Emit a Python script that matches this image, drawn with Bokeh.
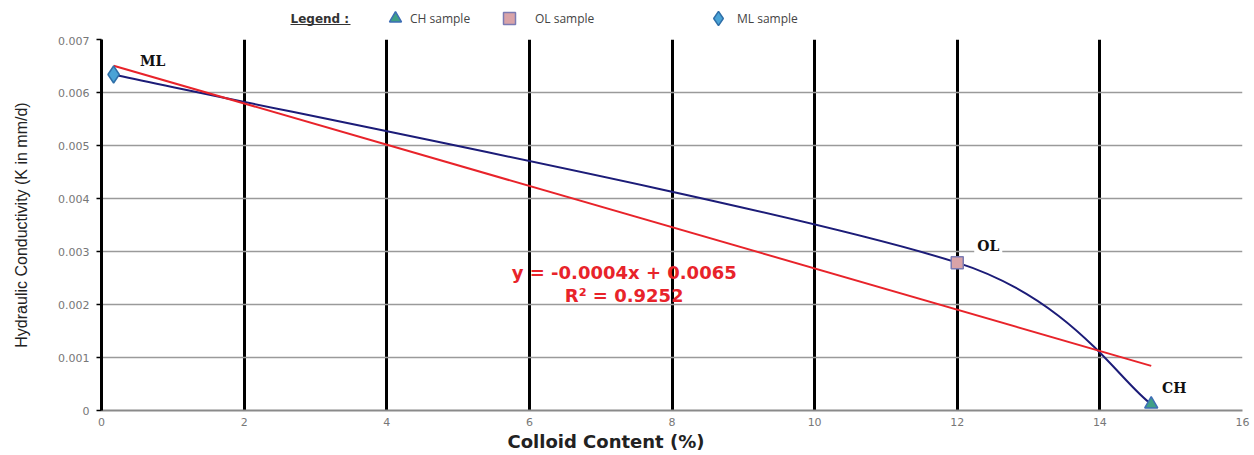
import numpy as np
from bokeh.plotting import figure
from bokeh.layouts import column
from bokeh.models import (Range1d, FixedTicker, CustomJSTickFormatter, Label, Title,
                          Legend, LegendItem, ColumnDataSource, BoxAnnotation)
from bokeh.embed import file_html
from bokeh.resources import INLINE

# ---------------- data ----------------
samples = ["ML", "OL", "CH"]
legend_names = ["ML sample", "OL sample", "CH sample"]
colloid_pct = [0.17, 12.0, 14.72]
k_mm_d = [0.00634, 0.00279, 0.00012]
x_ticks = [0, 2, 4, 6, 8, 10, 12, 14, 16]
y_ticks = [0, 0.001, 0.002, 0.003, 0.004, 0.005, 0.006, 0.007]
fit_text = "y = -0.0004x + 0.0065"
r2_text = "R\u00b2 = 0.9252"
x_title = "Colloid Content (%)"
y_title = "Hydraulic Conductivity (K in mm/d)"
legend_title = "Legend :"

styles = {
    "ML": dict(marker="diamond", fill_color="#4aa3d6", line_color="#2f6fa8", size=17),
    "OL": dict(marker="square", fill_color="#d9a3a8", line_color="#7b7bb3", size=12),
    "CH": dict(marker="triangle", fill_color="#3f9f86", line_color="#3d6db5", size=13),
}

W = 1250
FRAME_L, FRAME_R = 101, 1242
TOP_H = 36

# ---------------- main figure ----------------
p = figure(width=W, height=416, x_range=Range1d(0, 16), y_range=Range1d(0, 0.007),
           output_backend="svg", toolbar_location=None,
           min_border_left=FRAME_L, min_border_right=W - FRAME_R,
           min_border_top=3, min_border_bottom=42)
p.background_fill_color = "white"
p.border_fill_color = "white"
p.outline_line_color = None

p.xgrid.ticker = FixedTicker(ticks=x_ticks)
p.xgrid.grid_line_color = "black"
p.xgrid.grid_line_width = 3
p.ygrid.ticker = FixedTicker(ticks=y_ticks)
p.ygrid.grid_line_color = "#9a9a9a"
p.ygrid.grid_line_width = 1.5

p.xaxis.ticker = FixedTicker(ticks=x_ticks)
p.yaxis.ticker = FixedTicker(ticks=y_ticks)
p.yaxis.formatter = CustomJSTickFormatter(code="return tick === 0 ? '0' : tick.toFixed(3);")
for ax in (p.xaxis[0], p.yaxis[0]):
    ax.major_label_text_font = "DejaVu Sans"
    ax.major_label_text_font_size = "11px"
    ax.major_label_text_color = "#777777"
    ax.minor_tick_line_color = None
p.xaxis.axis_line_color = "#8a8a8a"
p.xaxis.axis_line_width = 2
p.xaxis.major_tick_line_color = None
p.xaxis.major_tick_out = 0
p.xaxis.major_tick_in = 0
p.xaxis.major_label_standoff = 7
p.yaxis.axis_line_color = "black"
p.yaxis.axis_line_width = 3
p.yaxis.major_tick_line_color = "black"
p.yaxis.major_tick_line_width = 1.5
p.yaxis.major_tick_out = 5
p.yaxis.major_tick_in = 0
p.yaxis.major_label_standoff = 7
p.yaxis.axis_label = y_title
p.yaxis.axis_label_text_font = "Liberation Sans"
p.yaxis.axis_label_text_font_size = "16px"
p.yaxis.axis_label_text_font_style = "normal"
p.yaxis.axis_label_text_color = "#222222"
p.yaxis.axis_label_standoff = 25

# x-axis title, placed left of centre as in the original
xt = Title(text=x_title, align="left", offset=406, text_font="DejaVu Sans",
           text_font_size="18px", text_font_style="bold", text_color="#222222")
try:
    xt.standoff = 0
except Exception:
    pass
p.add_layout(xt, "below")

# ---------------- smoothed curve through the samples ----------------
pts = np.column_stack([colloid_pct, k_mm_d])
scale = np.array([1141.0 / 16.0, 371.0 / 0.007])     # screen-like metric for smoothing
n = len(pts)
seg_len = [np.hypot(*((pts[i + 1] - pts[i]) * scale)) for i in range(n - 1)]
segs = {k: [] for k in ("x0", "y0", "x1", "y1", "cx0", "cy0", "cx1", "cy1")}


def arm(i, toward_next):
    prev_i = max(i - 1, 0)
    next_i = min(i + 1, n - 1)
    t = pts[next_i] - pts[prev_i]
    d_prev = seg_len[i - 1] if i > 0 else 0.0
    d_next = seg_len[i] if i < n - 1 else 0.0
    side = d_next if toward_next else d_prev
    f = min(1.0, np.sqrt(2.0 * side / (d_prev + d_next)))
    return t / 6.0 * f


for i in range(n - 1):
    c1 = pts[i] + arm(i, True)
    c2 = pts[i + 1] - arm(i + 1, False)
    segs["x0"].append(pts[i][0]); segs["y0"].append(pts[i][1])
    segs["x1"].append(pts[i + 1][0]); segs["y1"].append(pts[i + 1][1])
    segs["cx0"].append(c1[0]); segs["cy0"].append(c1[1])
    segs["cx1"].append(c2[0]); segs["cy1"].append(c2[1])
p.bezier(x0="x0", y0="y0", x1="x1", y1="y1", cx0="cx0", cy0="cy0", cx1="cx1", cy1="cy1",
         source=ColumnDataSource(segs), line_color="#1c1c78", line_width=2)

# ---------------- linear trendline ----------------
slope, intercept = np.polyfit(colloid_pct, k_mm_d, 1)
fx = [min(colloid_pct), max(colloid_pct)]
fy = [slope * v + intercept for v in fx]
p.line(fx, fy, line_color="#e8232a", line_width=2)

# ---------------- sample markers ----------------
for s, xv, yv in zip(samples, colloid_pct, k_mm_d):
    st = styles[s]
    p.scatter([xv], [yv], marker=st["marker"], size=st["size"],
              fill_color=st["fill_color"], line_color=st["line_color"], line_width=1.5)

label_offsets = {"ML": (39, 13), "OL": (31, 17), "CH": (23, 16)}
for s, xv, yv in zip(samples, colloid_pct, k_mm_d):
    dx, dy = label_offsets[s]
    p.add_layout(Label(x=xv, y=yv, x_offset=dx, y_offset=dy, text=s,
                       text_font="DejaVu Serif", text_font_style="bold", text_font_size="14px",
                       text_color="#111111", text_align="center", text_baseline="middle",
                       background_fill_color="white" if s == "OL" else None, padding=3))

for txt, yv in ((fit_text, 0.0026), (r2_text, 0.00217)):
    p.add_layout(Label(x=7.33, y=yv, text=txt, text_font="DejaVu Sans",
                       text_font_style="bold", text_font_size="18px", text_color="#e8232a",
                       text_align="center", text_baseline="middle"))

# ---------------- legend strip (separate small figure above the chart) ----------------
# its frame is aligned with the main frame by the column layout, so x is in page pixels
top = figure(width=W, height=TOP_H, x_range=Range1d(FRAME_L, FRAME_R), y_range=Range1d(TOP_H, 0),
             output_backend="svg", toolbar_location=None,
             x_axis_type=None, y_axis_type=None,
             min_border_left=FRAME_L, min_border_right=W - FRAME_R,
             min_border_top=0, min_border_bottom=0)
top.outline_line_color = None
top.background_fill_color = "white"
top.border_fill_color = "white"
top.grid.visible = False

top.add_layout(Label(x=290, y=18, text=legend_title, text_font="DejaVu Sans",
                     text_font_style="bold", text_font_size="12px", text_color="#333333",
                     text_align="left", text_baseline="middle"))
top.add_layout(BoxAnnotation(left=290, right=350, top=23.4, bottom=24.6,
                             fill_color="#333333", fill_alpha=1, line_color=None))

# legend boxes: (left edge relative to frame, bottom, glyph box, label standoff)
legend_pos = {"CH": (279, 3, 30, -3), "OL": (393, 3, 30, 11), "ML": (599, 0, 36, 1)}
for s, name in zip(samples, legend_names):
    st = styles[s]
    key = top.scatter(x=np.array([np.nan]), y=np.array([np.nan]), marker=st["marker"],
                      fill_color=st["fill_color"], line_color=st["line_color"], line_width=1.5)
    lx, ly, g, stand = legend_pos[s]
    top.add_layout(Legend(items=[LegendItem(label=name, renderers=[key])],
                          location=(lx, ly), orientation="horizontal",
                          glyph_width=g, glyph_height=g, label_standoff=stand,
                          padding=0, margin=0, spacing=0,
                          border_line_color=None, background_fill_alpha=0,
                          label_text_font="Open Sans", label_text_font_size="12px",
                          label_text_color="#444444"))

layout = column(top, p, spacing=0)
open("out.html", "w").write(file_html(layout, INLINE))
